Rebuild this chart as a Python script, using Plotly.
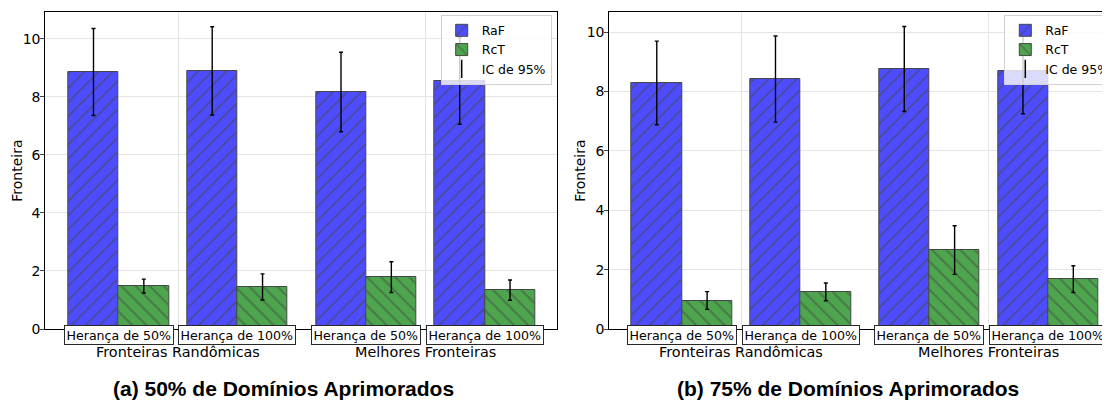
import plotly.graph_objects as go

# ---------------- data ----------------
groups = ["Herança de 50%", "Herança de 100%", "Herança de 50%", "Herança de 100%"]
clusters = ["Fronteiras Randômicas", "Melhores Fronteiras"]
positions = [0.0, 1.0, 2.085, 3.085]
cluster_pos = [0.5, 2.585]

# (a) 50% de Domínios Aprimorados
raf_a = [8.86, 8.90, 8.17, 8.56]
raf_a_ci = [1.50, 1.52, 1.37, 1.50]
rct_a = [1.48, 1.45, 1.79, 1.34]
rct_a_ci = [0.24, 0.45, 0.53, 0.35]

# (b) 75% de Domínios Aprimorados
raf_b = [8.29, 8.42, 8.76, 8.70]
raf_b_ci = [1.41, 1.45, 1.43, 1.45]
rct_b = [0.96, 1.25, 2.66, 1.68]
rct_b_ci = [0.30, 0.30, 0.82, 0.45]

yticks = [0, 2, 4, 6, 8, 10]
captions = ["(a) 50% de Domínios Aprimorados", "(b) 75% de Domínios Aprimorados"]

# ---------------- style ----------------
OFF = 8  # page body margin
W, H = 1110 - OFF, 403 - OFF
T = 12.3 - OFF
BOT = 329.3 - OFF
PH = BOT - T
BLUE = "rgb(77,77,255)"
GREEN = "rgb(77,166,77)"
EDGE = "rgb(70,70,70)"
HATCH = "rgb(70,70,70)"
FONT = "DejaVu Sans"
BW = 0.424


def px_x(px):
    return (px - OFF) / W


def py(px):
    return 1 - (px - OFF - T) / PH


fig = go.Figure()

panels = [
    dict(raf=raf_a, raf_ci=raf_a_ci, rct=rct_a, rct_ci=rct_a_ci, xa="x", ya="y", leg="legend"),
    dict(raf=raf_b, raf_ci=raf_b_ci, rct=rct_b, rct_ci=rct_b_ci, xa="x2", ya="y2", leg="legend2"),
]

for p in panels:
    fig.add_trace(go.Bar(
        x=positions, y=p["raf"], width=BW, offset=-BW, name="RaF",
        marker=dict(color=BLUE, line=dict(color=EDGE, width=1),
                    pattern=dict(shape="/", fgcolor=HATCH, size=10, solidity=0.2)),
        error_y=dict(type="data", array=p["raf_ci"], color="black", thickness=1.4, width=2),
        xaxis=p["xa"], yaxis=p["ya"], legend=p["leg"], showlegend=True,
    ))
    fig.add_trace(go.Bar(
        x=positions, y=p["rct"], width=BW, offset=0, name="RcT",
        marker=dict(color=GREEN, line=dict(color=EDGE, width=1),
                    pattern=dict(shape="\\", fgcolor=HATCH, size=10, solidity=0.2)),
        error_y=dict(type="data", array=p["rct_ci"], color="black", thickness=1.4, width=2),
        xaxis=p["xa"], yaxis=p["ya"], legend=p["leg"], showlegend=True,
    ))
    fig.add_trace(go.Scatter(
        x=[None], y=[None], mode="markers", name="IC de 95%",
        marker=dict(symbol="line-ns-open", size=13, color="black", line=dict(color="black", width=1.5)),
        xaxis=p["xa"], yaxis=p["ya"], legend=p["leg"], showlegend=True,
    ))

axis_common = dict(showline=True, linecolor="black", linewidth=1,
                   gridcolor="rgb(228,228,228)", gridwidth=1, zeroline=False)

fig.update_layout(
    width=W, height=H,
    margin=dict(l=0, r=0, t=T, b=H - BOT, autoexpand=False),
    paper_bgcolor="white", plot_bgcolor="white",
    font=dict(family=FONT, size=14, color="black"),
    bargap=0,
    xaxis=dict(domain=[px_x(45.3), px_x(557.3)], range=[-0.618, 3.695],
               tickvals=cluster_pos, showticklabels=False, ticks="", mirror=True, **axis_common),
    yaxis=dict(domain=[0, 1], range=[0, 10.93], tickvals=yticks, ticks="outside", ticklen=4,
               ticklabelstandoff=-3, tickfont=dict(size=14), mirror=True, **axis_common),
    xaxis2=dict(domain=[px_x(609.3), 1.0], range=[-0.612, 3.606], anchor="y2",
                tickvals=cluster_pos, showticklabels=False, ticks="", mirror=True, **axis_common),
    yaxis2=dict(domain=[0, 1], range=[0, 10.68], anchor="x2", tickvals=yticks, ticks="outside",
                ticklen=4, ticklabelstandoff=-3, tickfont=dict(size=14), mirror=False, **axis_common),
    legend=dict(x=px_x(440.7), y=py(15), xanchor="left", yanchor="top",
                bgcolor="rgba(255,255,255,0.8)", bordercolor="rgb(210,210,210)", borderwidth=1,
                font=dict(family=FONT, size=12.5), traceorder="normal"),
    legend2=dict(x=px_x(1004.3), y=py(15), xanchor="left", yanchor="top",
                 bgcolor="rgba(255,255,255,0.8)", bordercolor="rgb(210,210,210)", borderwidth=1,
                 font=dict(family=FONT, size=12.5), traceorder="normal"),
)

annotations = []
for xa, ytx in (("x", 17), ("x2", 580)):
    for g, pos in zip(groups, positions):
        annotations.append(dict(
            x=pos, xref=xa, y=py(335.5), yref="paper", text=g, showarrow=False,
            font=dict(family=FONT, size=12.6, color="black"),
            bordercolor="rgb(40,40,40)", borderwidth=1, borderpad=1.5, bgcolor="white",
            xanchor="center", yanchor="middle"))
    for c, pos in zip(clusters, cluster_pos):
        annotations.append(dict(
            x=pos, xref=xa, y=py(352.5), yref="paper", text=c, showarrow=False,
            font=dict(family=FONT, size=14.4, color="black"), xanchor="center", yanchor="middle"))
    annotations.append(dict(
        x=px_x(ytx), xref="paper", y=py(171), yref="paper", text="Fronteira", textangle=-90,
        showarrow=False, font=dict(family=FONT, size=14, color="black"),
        xanchor="center", yanchor="middle"))

for cap, cx in zip(captions, [283, 848]):
    annotations.append(dict(
        x=px_x(cx), xref="paper", y=py(389), yref="paper", text="<b>" + cap + "</b>",
        showarrow=False, font=dict(family="Liberation Sans", size=21, color="black"),
        xanchor="center", yanchor="middle"))

fig.update_layout(annotations=annotations)

fig.write_html("out.html")
